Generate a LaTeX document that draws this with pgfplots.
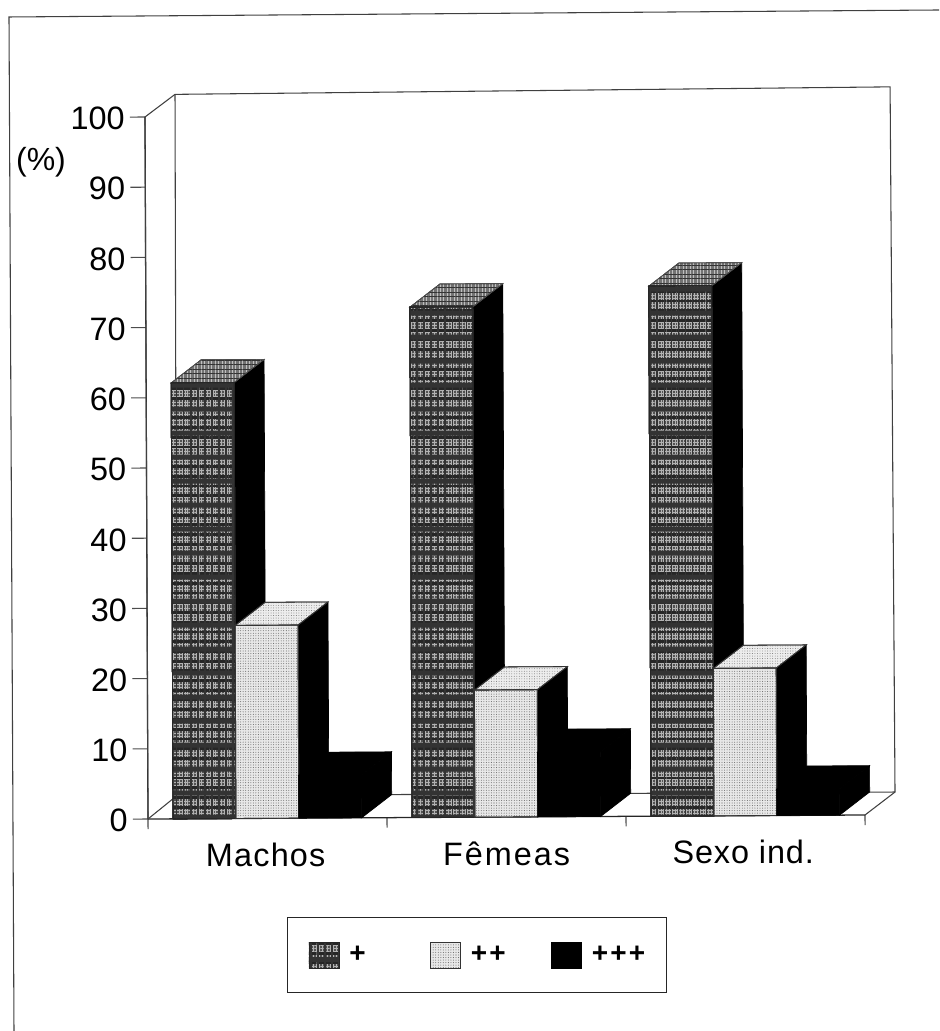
\documentclass[border=0pt]{standalone}
\usepackage{fontspec}
\setmainfont{Liberation Sans}
\usepackage{pgfplots}
\pgfplotsset{compat=1.18}
\usetikzlibrary{patterns,patterns.meta}

% 1 px of the reference = 0.75pt
\tikzset{
  dark front/.style={fill=black!68,draw=black!85,line width=.7pt,
    postaction={pattern={Lines[angle=0,distance=2.3pt,line width=.4pt]},pattern color=white!70!black},
    postaction={pattern={Lines[angle=90,distance=2.1pt,line width=.4pt]},pattern color=white!70!black},
    postaction={pattern={Lines[angle=0,distance=7.3pt,line width=2.1pt]},pattern color=black!85},
    postaction={pattern={Lines[angle=0,distance=17.9pt,line width=3.7pt]},pattern color=black!80},
    postaction={pattern={Lines[angle=90,distance=5.3pt,line width=1.1pt]},pattern color=black!80}},
  dark top/.style={fill=black!55,draw=black!70,line width=.5pt,
    postaction={pattern={Lines[angle=90,distance=2.6pt,line width=.4pt]},pattern color=white!75!black},
    postaction={pattern={Lines[angle=0,distance=3.4pt,line width=.5pt]},pattern color=black!80}},
  light front/.style={fill=black!9,draw=black!80,line width=.7pt,
    postaction={pattern={Dots[distance=1.9pt,radius=.38pt]},pattern color=black!60}},
  light top/.style={fill=black!7,draw=black!80,line width=.6pt,
    postaction={pattern={Dots[distance=1.9pt,radius=.34pt]},pattern color=black!55}},
  solid black/.style={fill=black,draw=black,line width=.5pt},
}

% #1 left edge, #2 value, #3 front style, #4 top style
\newcommand\cube[4]{%
  \pgfmathsetmacro\xa{#1}%
  \pgfmathsetmacro\xb{#1+0.263}%
  \pgfmathsetmacro\xc{#1+0.126}%
  \pgfmathsetmacro\xd{#1+0.263+0.126}%
  \pgfmathsetmacro\vb{#2+3.28}%
  \pgfmathsetmacro\vc{3.28}%
  \edef\tmp{%
    \noexpand\addplot[forget plot,solid black] coordinates {(\xb,0) (\xd,\vc) (\xd,\vb) (\xb,#2)} --cycle;
    \noexpand\addplot[forget plot,#4] coordinates {(\xa,#2) (\xb,#2) (\xd,\vb) (\xc,\vb)} --cycle;
    \noexpand\addplot[forget plot,#3] coordinates {(\xa,0) (\xb,0) (\xb,#2) (\xa,#2)} --cycle;
  }\tmp
}

\begin{document}
\begin{tikzpicture}
\path[use as bounding box] (-111pt,-159pt) rectangle (593.25pt,614.25pt);
\begin{axis}[
  at={(0,0)},anchor=origin,
  x={(179.25pt,1pt)},y={(-0.0225pt,5.265pt)},
  xmin=0,xmax=3,ymin=0,ymax=100,
  clip=false,
  axis lines=left,
  axis line style={-,black!85,line width=.95pt},
  tick align=outside,
  tick style={black!70,line width=.8pt},
  ytick={0,10,...,100},
  major tick length=11.25pt,
  minor tick length=7.5pt,
  xtick={0.492,1.5,2.49},
  xticklabels={{\addfontfeature{LetterSpace=3.7}Machos},{\addfontfeature{LetterSpace=6}Fêmeas},{\addfontfeature{LetterSpace=2.7}Sexo ind.}},
  minor xtick={0,1,2,3},
  major x tick style={draw=none},
  /pgf/number format/assume math mode=true,
  ticklabel style={font=\fontsize{24.3}{27}\selectfont},
  yticklabel style={inner sep=0pt,xshift=-3.75pt,yshift=-1.1pt},
  xticklabel style={inner sep=0pt,text height=18pt,text depth=0pt,yshift=-6.75pt},
  ylabel={(\%)},
  every axis y label/.style={at={(axis cs:-0.436,93.7)},anchor=center,font=\fontsize{24}{27}\selectfont},
  legend columns=3,
  legend style={at={(axis cs:0.58,-14.1)},anchor=north west,
    draw=black!85,line width=.7pt,
    inner xsep=15.75pt,inner ysep=18pt,
    nodes={inner sep=0pt,text width=39.75pt,font=\fontsize{21}{23}\selectfont\bfseries},
    /tikz/every odd column/.append style={column sep=7.5pt},
    /tikz/every even column/.append style={column sep=20.6pt},
    cells={anchor=west}},
]
% walls and floor
\addplot[forget plot,black!75,line width=.8pt] coordinates {(0,0) (0,100) (0.126,103.2) (3.118,103.7) (3.126,3.25) (3,0)};
\addplot[forget plot,black!75,line width=.8pt] coordinates {(0,0) (0.121,3.3)};
\addplot[forget plot,black!75,line width=.8pt] coordinates {(0.126,103.2) (0.121,3.3) (3.126,3.25)};

\cube{0.105}{62.1}{dark front}{dark top}
\cube{0.368}{27.5}{light front}{light top}
\cube{0.631}{6.1}{solid black}{solid black}

\cube{1.105}{72.7}{dark front}{dark top}
\cube{1.368}{18.1}{light front}{light top}
\cube{1.631}{9.2}{solid black}{solid black}

\cube{2.105}{75.5}{dark front}{dark top}
\cube{2.368}{21.0}{light front}{light top}
\cube{2.631}{3.75}{solid black}{solid black}

\addlegendimage{legend image code/.code={\draw[dark front] (0pt,-9.75pt) rectangle (22.5pt,9.75pt);}}
\addlegendentry{+}
\addlegendimage{legend image code/.code={\draw[light front] (0pt,-9.75pt) rectangle (22.5pt,9.75pt);}}
\addlegendentry{+\kern1.6pt+}
\addlegendimage{legend image code/.code={\draw[solid black] (0pt,-9.75pt) rectangle (22.5pt,9.75pt);}}
\addlegendentry{+\kern1.6pt+\kern1.6pt+}
\end{axis}
% sheet border
\begin{scope}[x=.75pt,y=-.75pt,shift={(-111pt,614.25pt)}]
\draw[black!75,line width=.8pt] (14,1031) -- (9,17) -- (939,10);
\end{scope}
\end{tikzpicture}
\end{document}
